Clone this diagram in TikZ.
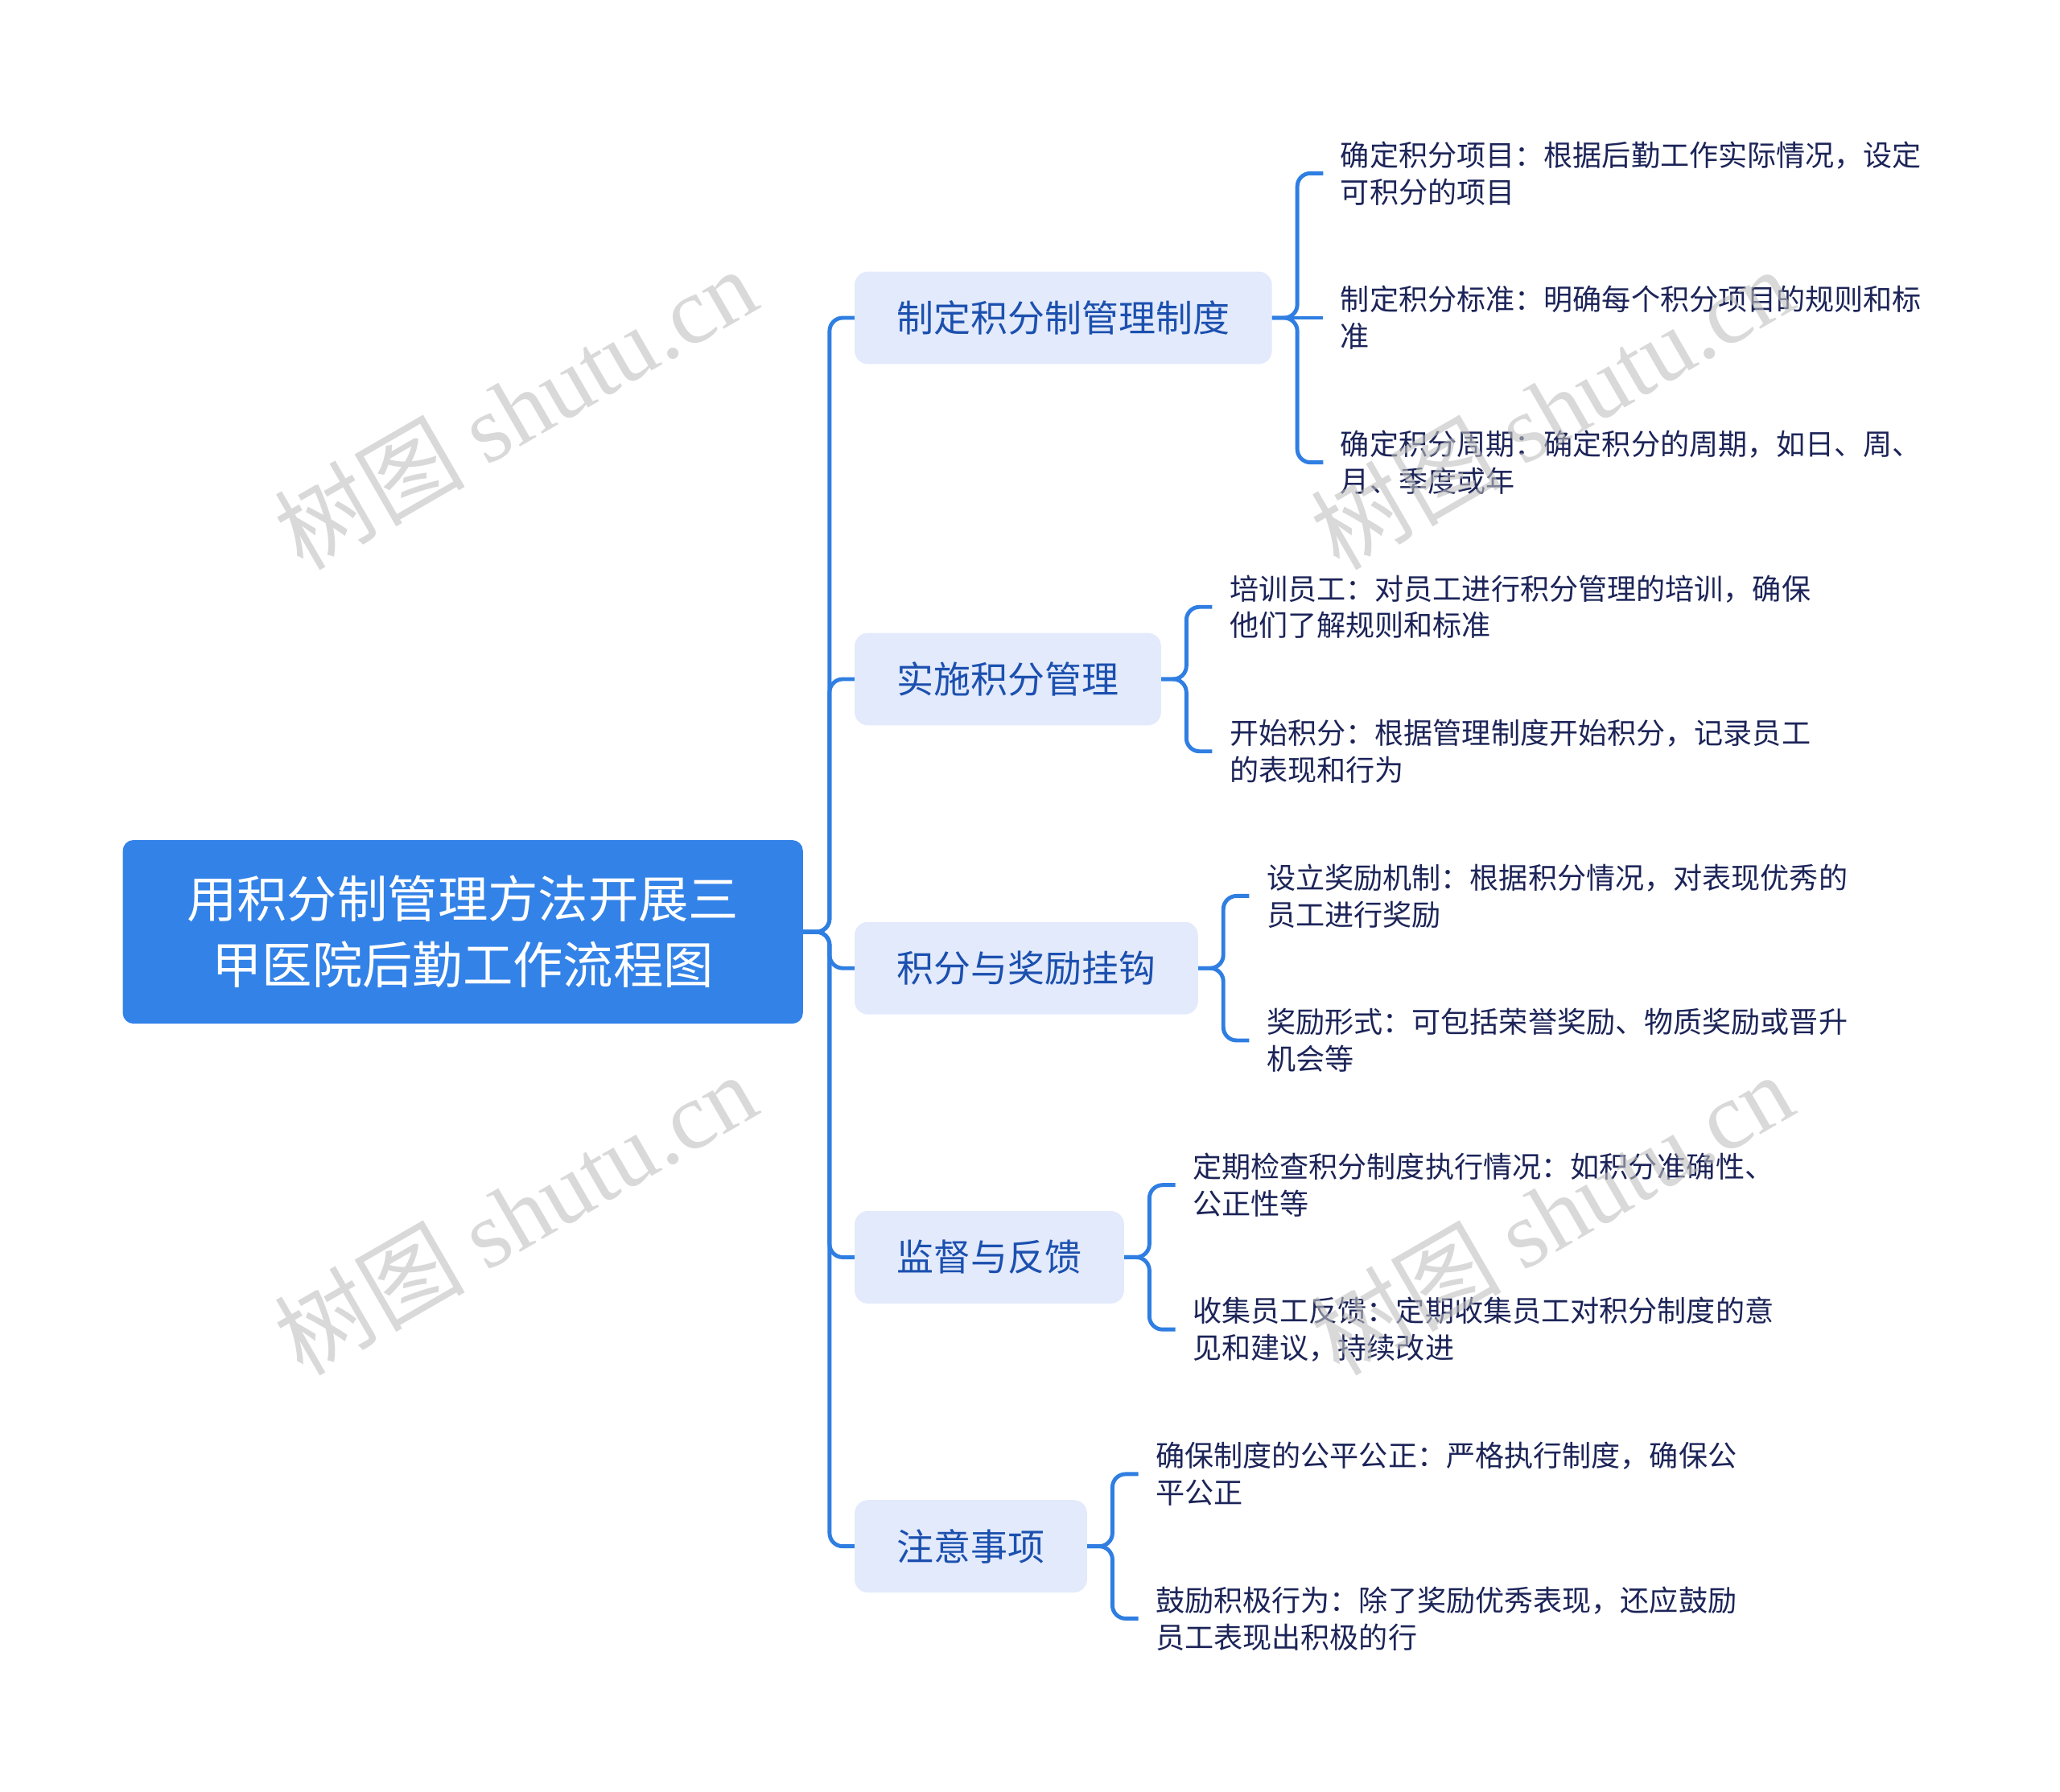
\documentclass[tikz,border=0pt]{standalone}
\usepackage{fontspec}
\setmainfont{Noto Sans CJK SC}
\newfontfamily\wmfont{Liberation Serif}
\definecolor{rootblue}{RGB}{50,130,232}
\definecolor{topicfill}{RGB}{226,234,251}
\definecolor{topictext}{RGB}{28,80,175}
\definecolor{leaftext}{RGB}{28,36,88}
\definecolor{linkblue}{RGB}{47,126,226}
\begin{document}
\begin{tikzpicture}[x=1pt,y=-1pt,
    root/.style={fill=rootblue,rounded corners=8pt,text=white,align=center,
      minimum width=515pt,minimum height=139pt,font=\fontsize{38}{50}\selectfont},
    topic/.style={fill=topicfill,rounded corners=10pt,text=topictext,anchor=west,
      inner xsep=32pt,minimum height=70pt,font=\fontsize{28}{34}\selectfont},
    leaf/.style={anchor=west,align=left,inner xsep=13pt,text=leaftext,
      font=\fontsize{22}{28}\selectfont},
    link/.style={draw=linkblue,line width=3pt,rounded corners=10pt},
    wm/.style={text=black!25,opacity=0.6,rotate=30,font=\fontsize{72}{72}\selectfont}]
  \useasboundingbox (0,0) rectangle (1560,1357);
  \node[root] (r) at (350.5,705.7) {用积分制管理方法开展三\\甲医院后勤工作流程图};
  \node[topic] (a) at (647,240.7) {制定积分制管理制度};
  \node[topic] (b) at (647,514.3) {实施积分管理};
  \node[topic] (c) at (647,733.2) {积分与奖励挂钩};
  \node[topic] (d) at (647,952.1) {监督与反馈};
  \node[topic] (e) at (647,1171) {注意事项};
  \node[leaf] (a1) at (1002,131.2) {确定积分项目：根据后勤工作实际情况，设定\\可积分的项目};
  \node[leaf] (a2) at (1002,240.7) {制定积分标准：明确每个积分项目的规则和标\\准};
  \node[leaf] (a3) at (1002,350.2) {确定积分周期：确定积分的周期，如日、周、\\月、季度或年};
  \node[leaf] (b1) at (918,459.6) {培训员工：对员工进行积分管理的培训，确保\\他们了解规则和标准};
  \node[leaf] (b2) at (918,569) {开始积分：根据管理制度开始积分，记录员工\\的表现和行为};
  \node[leaf] (c1) at (946,678.5) {设立奖励机制：根据积分情况，对表现优秀的\\员工进行奖励};
  \node[leaf] (c2) at (946,787.9) {奖励形式：可包括荣誉奖励、物质奖励或晋升\\机会等};
  \node[leaf] (d1) at (890,897.4) {定期检查积分制度执行情况：如积分准确性、\\公正性等};
  \node[leaf] (d2) at (890,1006.8) {收集员工反馈：定期收集员工对积分制度的意\\见和建议，持续改进};
  \node[leaf] (e1) at (862,1116.3) {确保制度的公平公正：严格执行制度，确保公\\平公正};
  \node[leaf] (e2) at (862,1225.7) {鼓励积极行为：除了奖励优秀表现，还应鼓励\\员工表现出积极的行};
  \begin{scope}[link]
    \foreach \t in {a,b,c,d,e}
      \draw (r.east) -- ++(20,0) |- (\t.west);
    \draw (a.east) -- (a2.west);
    \foreach \l in {a1,a3}
      \draw (a.east) -- ++(19,0) |- (\l.west);
    \foreach \l in {b1,b2}
      \draw (b.east) -- ++(19,0) |- (\l.west);
    \foreach \l in {c1,c2}
      \draw (c.east) -- ++(19,0) |- (\l.west);
    \foreach \l in {d1,d2}
      \draw (d.east) -- ++(19,0) |- (\l.west);
    \foreach \l in {e1,e2}
      \draw (e.east) -- ++(19,0) |- (\l.west);
  \end{scope}
  \node[wm] (w1) at (390,309) {树图 {\wmfont shutu.cn}};
  \node[wm] (w2) at (390,919) {树图 {\wmfont shutu.cn}};
  \node[wm] (w3) at (1175,309) {树图 {\wmfont shutu.cn}};
  \node[wm] (w4) at (1175,919) {树图 {\wmfont shutu.cn}};
\end{tikzpicture}
\end{document}
